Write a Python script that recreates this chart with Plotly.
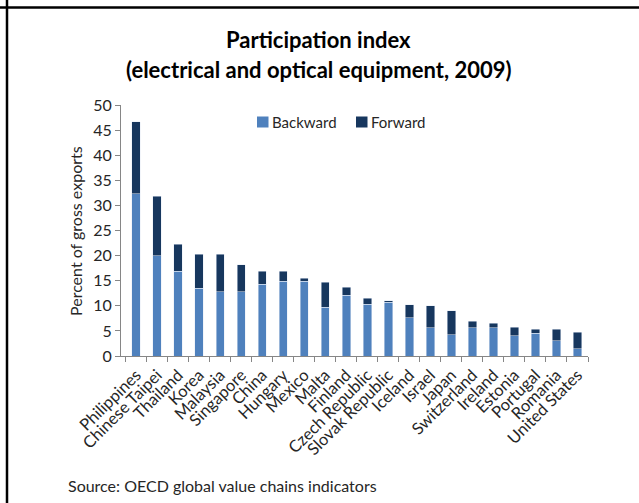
import plotly.graph_objects as go

# Participation index, electrical and optical equipment, 2009
countries = [
    "Philippines", "Chinese Taipei", "Thailand", "Korea", "Malaysia",
    "Singapore", "China", "Hungary", "Mexico", "Malta", "Finland",
    "Czech Republic", "Slovak Republic", "Iceland", "Israel", "Japan",
    "Switzerland", "Ireland", "Estonia", "Portugal", "Romania", "United States",
]
backward = [32.3, 20.0, 16.9, 13.5, 12.8, 12.8, 14.3, 14.9, 14.9, 9.7, 12.1,
            10.3, 10.7, 7.6, 5.6, 4.2, 5.6, 5.6, 4.0, 4.5, 3.0, 1.4]
total = [46.7, 31.8, 22.3, 20.3, 20.3, 18.2, 16.9, 16.9, 15.5, 14.7, 13.7,
         11.5, 11.0, 10.2, 10.0, 9.0, 6.9, 6.5, 5.7, 5.3, 5.3, 4.7]
forward = [round(t - b, 1) for t, b in zip(total, backward)]

y_ticks = list(range(0, 51, 5))

series_names = ["Backward", "Forward"]
series_colors = ["#4F81BD", "#17375E"]

FONT = "Lato"
TXT = "#262626"

W, H = 639, 503
L, R, T, B = 121, 51, 105, 147
PW, PH = W - L - R, H - T - B


def px_x(x):
    return (x - L) / PW


def px_y(y):
    return (H - B - y) / PH


fig = go.Figure()
for name, vals, col in zip(series_names, [backward, forward], series_colors):
    fig.add_bar(name=name, x=countries, y=vals, marker_color=col, width=0.4)

fig.update_layout(
    width=W, height=H,
    margin=dict(l=L, r=R, t=T, b=B),
    barmode="stack",
    paper_bgcolor="white", plot_bgcolor="white",
    font=dict(family=FONT, size=14, color=TXT),
    showlegend=False,
)

fig.update_xaxes(
    range=[-0.72, 21.5], showline=True, linecolor="#868686", linewidth=1,
    ticks="outside", tickson="boundaries", ticklen=5, tickcolor="#868686",
    tickangle=-45, tickfont=dict(size=16.5, color=TXT), showgrid=False,
    ticklabelstandoff=2,
)
fig.update_yaxes(
    range=[0, 50], tickvals=y_ticks, showline=True, linecolor="#868686",
    linewidth=1, ticks="outside", ticklen=5, tickcolor="#868686",
    tickfont=dict(size=16, color=TXT), showgrid=False, zeroline=False,
)

annotations = [
    dict(text="<b>Participation index</b>", x=px_x(318), y=px_y(39),
         xanchor="center", yanchor="middle", font=dict(size=22, color="#000")),
    dict(text="<b>(electrical and optical equipment, 2009)</b>", x=px_x(319),
         y=px_y(70), xanchor="center", yanchor="middle",
         font=dict(size=22, color="#000")),
    dict(text="Percent of gross exports", x=px_x(75), y=px_y(231),
         xanchor="center", yanchor="middle", textangle=-90,
         font=dict(size=16, color=TXT)),
    dict(text="Source: OECD global value chains indicators", x=px_x(66),
         y=px_y(485), xanchor="left", yanchor="middle",
         font=dict(size=16, color=TXT)),
    dict(text="<b>supply chain participation index</b>", x=px_x(20),
         y=px_y(3), xanchor="left", yanchor="bottom",
         font=dict(size=17, color="#000")),
]

# inline legend: square swatch followed closely by its label
legend_x = [257, 356]
legend_y = 122
shapes = []
for name, col, lx in zip(series_names, series_colors, legend_x):
    shapes.append(dict(type="rect", xref="paper", yref="paper",
                       x0=px_x(lx), x1=px_x(lx + 11.5),
                       y0=px_y(legend_y - 5.5), y1=px_y(legend_y + 5.5),
                       fillcolor=col, line=dict(width=0)))
    annotations.append(dict(text=name, x=px_x(lx + 13), y=px_y(legend_y),
                            xanchor="left", yanchor="middle",
                            font=dict(size=15, color=TXT)))

for a in annotations:
    a.update(xref="paper", yref="paper", showarrow=False)

# frame lines around the panel
shapes.append(dict(type="line", xref="paper", yref="paper",
                   x0=px_x(0), x1=px_x(W), y0=px_y(7.5), y1=px_y(7.5),
                   line=dict(color="black", width=2.5)))
shapes.append(dict(type="line", xref="paper", yref="paper",
                   x0=px_x(7), x1=px_x(7), y0=px_y(0), y1=px_y(H),
                   line=dict(color="black", width=2.5)))

fig.update_layout(annotations=annotations, shapes=shapes)

fig.write_html("out.html")
